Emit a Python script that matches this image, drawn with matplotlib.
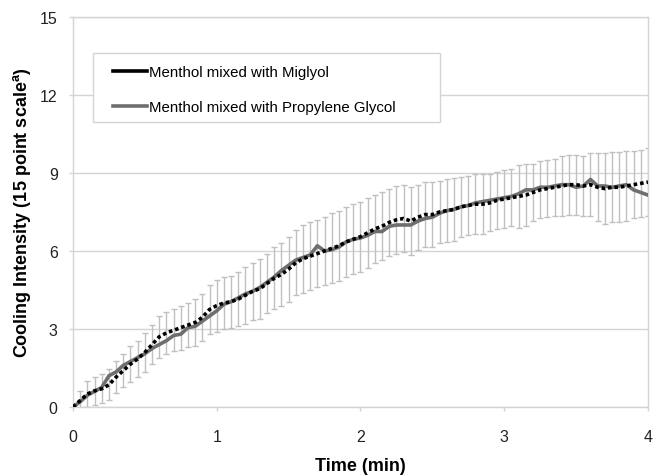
import numpy as np
import matplotlib
matplotlib.use("Agg")
import matplotlib.pyplot as plt
from matplotlib.lines import Line2D
from matplotlib.patches import Rectangle

plt.rcParams['font.family'] = ['Liberation Sans', 'DejaVu Sans']

# time axis, one reading every 3 s
time_min = np.round(np.arange(81) * 0.05, 2)

miglyol = [0.00, 0.25, 0.50, 0.62, 0.70, 0.85, 1.15, 1.40, 1.65, 1.85,
           2.10, 2.40, 2.70, 2.85, 2.95, 3.05, 3.15, 3.25, 3.45, 3.75,
           3.90, 4.00, 4.05, 4.15, 4.30, 4.45, 4.55, 4.75, 4.95, 5.10,
           5.30, 5.55, 5.70, 5.80, 5.90, 6.00, 6.10, 6.20, 6.35, 6.45,
           6.55, 6.70, 6.85, 6.95, 7.10, 7.20, 7.25, 7.15, 7.30, 7.40,
           7.40, 7.50, 7.55, 7.60, 7.70, 7.75, 7.80, 7.80, 7.85, 7.95,
           8.00, 8.05, 8.10, 8.15, 8.25, 8.35, 8.40, 8.45, 8.50, 8.55,
           8.55, 8.50, 8.55, 8.45, 8.40, 8.45, 8.45, 8.50, 8.55, 8.60,
           8.65]

propylene = [0.00, 0.20, 0.45, 0.60, 0.75, 1.20, 1.35, 1.60, 1.75, 1.90,
             2.05, 2.25, 2.40, 2.55, 2.75, 2.80, 3.05, 3.10, 3.30, 3.50,
             3.70, 3.95, 4.05, 4.20, 4.35, 4.45, 4.60, 4.80, 5.00, 5.25,
             5.45, 5.65, 5.75, 5.85, 6.20, 6.00, 6.05, 6.15, 6.35, 6.45,
             6.50, 6.60, 6.75, 6.75, 6.95, 7.00, 7.00, 7.00, 7.15, 7.25,
             7.30, 7.45, 7.55, 7.60, 7.70, 7.75, 7.85, 7.90, 7.95, 8.00,
             8.05, 8.10, 8.20, 8.35, 8.35, 8.45, 8.45, 8.50, 8.55, 8.55,
             8.45, 8.50, 8.75, 8.50, 8.50, 8.45, 8.50, 8.55, 8.35, 8.25,
             8.15]

miglyol_sd = [0.00, 0.35, 0.50, 0.55, 0.55, 0.60, 0.60, 0.65, 0.70, 0.70,
              0.75, 0.75, 0.80, 0.80, 0.80, 0.85, 0.85, 0.90, 0.90, 0.95,
              1.00, 1.00, 1.00, 1.05, 1.10, 1.10, 1.15, 1.15, 1.20, 1.20,
              1.25, 1.25, 1.30, 1.30, 1.30, 1.30, 1.35, 1.35, 1.35, 1.35,
              1.35, 1.35, 1.30, 1.30, 1.30, 1.30, 1.30, 1.30, 1.25, 1.25,
              1.25, 1.20, 1.20, 1.20, 1.15, 1.15, 1.15, 1.15, 1.10, 1.10,
              1.10, 1.10, 1.20, 1.20, 1.10, 1.10, 1.10, 1.10, 1.15, 1.15,
              1.15, 1.15, 1.20, 1.30, 1.35, 1.35, 1.35, 1.35, 1.30, 1.30,
              1.30]

labels = ['Menthol mixed with Miglyol', 'Menthol mixed with Propylene Glycol']

fig = plt.figure(figsize=(6.54, 4.77), dpi=100)
ax = fig.add_axes([0.1116, 0.1447, 0.8792, 0.8176])

light = '#d4d4d4'
ax.errorbar(time_min, miglyol, yerr=miglyol_sd, fmt='none', ecolor='#c0c0c0',
            elinewidth=1.0, capsize=2.5, capthick=1.0, zorder=2)
ax.plot(time_min, propylene, color='#6e6e6e', lw=2.6, zorder=3)
ax.plot(time_min, miglyol, color='black', lw=2.6, linestyle=(0, (1.0, 0.8)), zorder=4)

ax.set_xlim(0, 4)
ax.set_ylim(0, 15)
ax.set_xticks([0, 1, 2, 3, 4])
ax.set_yticks([0, 3, 6, 9, 12, 15])
ax.yaxis.grid(True, color=light, lw=1.0)
ax.set_axisbelow(True)
for s in ax.spines.values():
    s.set_color(light)
    s.set_linewidth(1.0)
ax.tick_params(axis='both', colors=light, length=3, width=1.0, labelcolor='#222222',
               labelsize=11.5)
ax.tick_params(axis='x', pad=13)
ax.tick_params(axis='y', pad=8)

ax.set_xlabel('Time (min)', fontsize=13, fontweight='bold', labelpad=9)
ax.set_ylabel(r'Cooling Intensity (15 point scale$^{\mathregular{a}}$)',
              fontsize=13, fontweight='bold', labelpad=5)

# legend frame drawn separately so its padding matches the original
ax.add_patch(Rectangle((0.035, 0.731), 0.603, 0.177, transform=ax.transAxes,
                       facecolor='white', edgecolor=light, lw=1.0, zorder=5))
handles = [Line2D([], [], color='black', lw=2.6),
           Line2D([], [], color='#6e6e6e', lw=2.6)]
leg = ax.legend(handles, labels, loc='upper left', bbox_to_anchor=(0.069, 0.876),
                borderaxespad=0, borderpad=0, fontsize=10.8, frameon=False,
                handlelength=2.3, handletextpad=0.1, labelspacing=1.4)
leg.set_zorder(6)

fig.savefig('out.png', dpi=100)
